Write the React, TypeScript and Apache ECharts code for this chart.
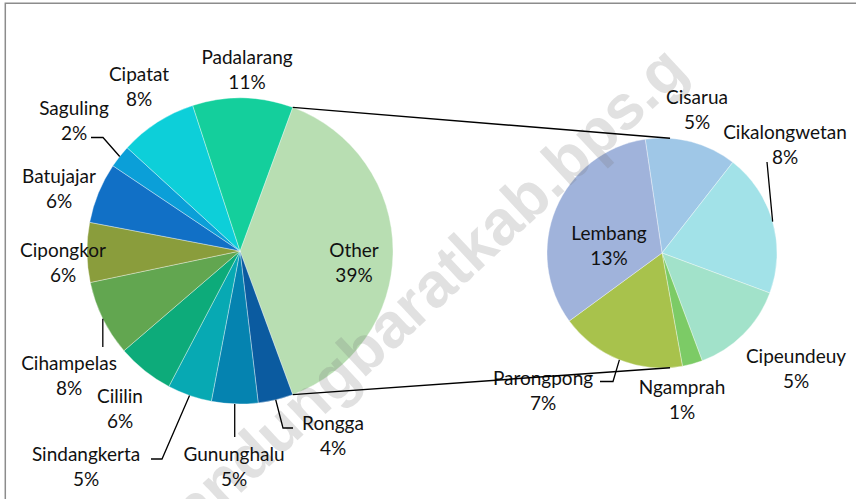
import React, { useEffect, useRef } from "react";
import * as echarts from "echarts";

// ---- data (shares of the whole, %) ----
const MAIN_NAMES = ["Rongga", "Gununghalu", "Sindangkerta", "Cililin", "Cihampelas", "Cipongkor", "Batujajar", "Saguling", "Cipatat", "Padalarang"];
const MAIN_VALUES = [3.7, 4.9, 4.7, 6.0, 8.0, 6.3, 6.4, 2.4, 8.2, 10.6];
const OTHER_NAME = "Other";
const SUB_NAMES = ["Cisarua", "Cikalongwetan", "Cipeundeuy", "Ngamprah", "Parongpong", "Lembang"];
const SUB_VALUES = [5.0, 7.8, 5.3, 1.1, 6.9, 12.7];
const WATERMARK = "bandungbaratkab.bps.g";

// ---- styles ----
const OTHER_COLOR = "#b8deb2";
const MAIN_COLORS = ["#0b5ba0", "#0583b0", "#07a9b3", "#0dab7a", "#62a650", "#8a9d3c", "#1170c6", "#0b9fd8", "#0dcfd9", "#14cf9c"];
const SUB_COLORS = ["#9fc7e7", "#a2e2e8", "#a2e2ca", "#7ccb66", "#a8c24c", "#a0b3db"];

// label centres (layout), in data order (main: Other first)
const MAIN_LABEL_POS: [number, number][] = [
  [354, 262], [333, 435], [234, 466], [86, 466], [120, 408], [69, 375], [63, 262], [59, 188], [74, 120], [139, 86], [247, 69],
];
const SUB_LABEL_POS: [number, number][] = [
  [697, 109], [785, 144], [796, 368], [682, 399], [543, 390], [609, 245],
];
// leader lines: [dx, dy] of the end point relative to the label centre (NaN dx = straight down/up from the slice),
// third entry = horizontal elbow length toward the slice
type Leader = [number, number, number] | null;
const MAIN_LEADERS: Leader[] = [
  null, [-40, -7, -10], [NaN, -29, 0], [65, -7, 11], null, [NaN, -28, 0], null, null, [17, 17.5, 12], null, null,
];
const SUB_LEADERS: Leader[] = [null, [-18, 18, 0], null, null, [57, -8.5, 13], null];

const MAIN_CENTER: [number, number] = [240, 251];
const MAIN_R = 153;
const SUB_CENTER: [number, number] = [662, 253];
const SUB_R = 115;
const SUB_START = 98.4;
const FONT = "Lato, 'Noto Sans', sans-serif";

export default function App() {
  const ref = useRef<HTMLDivElement>(null);
  useEffect(() => {
    if (!ref.current) return;
    const chart = echarts.init(ref.current, undefined, { renderer: "svg" });
    const otherValue = SUB_VALUES.reduce((a, b) => a + b, 0);
    const total = MAIN_VALUES.reduce((a, b) => a + b, 0) + otherValue;
    const otherAngle = (otherValue / total) * 360;
    const mainStart = otherAngle / 2;

    const fmt = (p: any) => `${p.name}\n${Math.round((p.value / total) * 100)}%`;

    const mainValuesAll = [otherValue, ...MAIN_VALUES];
    const mainNamesAll = [OTHER_NAME, ...MAIN_NAMES];
    const mainColorsAll = [OTHER_COLOR, ...MAIN_COLORS];

    const mkData = (names: string[], vals: number[], colors: string[], leaders: Leader[], visible: boolean) =>
      names.map((n, i) => ({
        name: n,
        value: vals[i],
        itemStyle: visible ? { color: colors[i] } : { color: "rgba(0,0,0,0)", borderWidth: 0 },
        labelLine: { show: !visible && !!leaders[i] },
      }));

    const deg = Math.PI / 180;
    // angle measured clockwise from 12 o'clock
    const pt = (c: [number, number], r: number, thetaFromTop: number) => [
      c[0] + r * Math.sin(thetaFromTop * deg),
      c[1] - r * Math.cos(thetaFromTop * deg),
    ];
    const midAngles = (vals: number[], startEchartsDeg: number) => {
      const sum = vals.reduce((a, b) => a + b, 0);
      let acc = 90 - startEchartsDeg;
      return vals.map((v) => {
        const a = (v / sum) * 360;
        const m = acc + a / 2;
        acc += a;
        return m;
      });
    };
    const mainMid = midAngles(mainValuesAll, mainStart);
    const subMid = midAngles(SUB_VALUES, SUB_START);

    const layoutFor = (
      posArr: [number, number][],
      leaders: Leader[],
      mids: number[],
      c: [number, number],
      r: number
    ) => (p: any) => {
      const i = p.dataIndex;
      const pos = posArr[i];
      const res: any = { x: pos[0], y: pos[1], align: "center", verticalAlign: "middle" };
      const L = leaders[i];
      if (L) {
        const anchor = pt(c, r, mids[i]);
        const endX = isNaN(L[0]) ? anchor[0] : pos[0] + L[0];
        const end = [endX, pos[1] + L[1]];
        if (L[2] !== 0) {
          res.labelLinePoints = [anchor, [end[0] + L[2], end[1]], end];
        } else {
          res.labelLinePoints = [anchor, [(anchor[0] + end[0]) / 2, (anchor[1] + end[1]) / 2], end];
        }
      }
      return res;
    };

    const a1 = pt(MAIN_CENTER, MAIN_R, 90 - otherAngle / 2);
    const a2 = pt(MAIN_CENTER, MAIN_R, 90 + otherAngle / 2);
    const b1 = pt(SUB_CENTER, SUB_R, 4);
    const b2 = pt(SUB_CENTER, SUB_R, 176);

    const labelCommon = {
      show: true,
      formatter: fmt,
      fontFamily: FONT,
      fontSize: 19,
      lineHeight: 24.5,
      color: "#111",
      align: "center",
    };
    const lineCommon = { length: 8, length2: 10, smooth: false, lineStyle: { color: "#000", width: 1.3 } };
    const itemCommon = { borderColor: "rgba(255,255,255,0.6)", borderWidth: 0.6 };

    const mainBase = {
      type: "pie",
      center: MAIN_CENTER,
      radius: MAIN_R,
      startAngle: mainStart,
      clockwise: true,
      avoidLabelOverlap: false,
      silent: true,
    };
    const subBase = {
      type: "pie",
      center: SUB_CENTER,
      radius: SUB_R,
      startAngle: SUB_START,
      clockwise: true,
      avoidLabelOverlap: false,
      silent: true,
    };

    chart.setOption({
      animation: false,
      backgroundColor: "#ffffff",
      series: [
        // slices
        {
          ...mainBase,
          z: 1,
          data: mkData(mainNamesAll, mainValuesAll, mainColorsAll, MAIN_LEADERS, true),
          itemStyle: itemCommon,
          label: { show: false },
          labelLine: { show: false },
        },
        {
          ...subBase,
          z: 1,
          data: mkData(SUB_NAMES, SUB_VALUES, SUB_COLORS, SUB_LEADERS, true),
          itemStyle: itemCommon,
          label: { show: false },
          labelLine: { show: false },
        },
        // data labels (drawn above the watermark)
        {
          ...mainBase,
          z: 5,
          data: mkData(mainNamesAll, mainValuesAll, mainColorsAll, MAIN_LEADERS, false),
          label: labelCommon,
          labelLine: lineCommon,
          labelLayout: layoutFor(MAIN_LABEL_POS, MAIN_LEADERS, mainMid, MAIN_CENTER, MAIN_R),
        },
        {
          ...subBase,
          z: 5,
          data: mkData(SUB_NAMES, SUB_VALUES, SUB_COLORS, SUB_LEADERS, false),
          label: labelCommon,
          labelLine: lineCommon,
          labelLayout: layoutFor(SUB_LABEL_POS, SUB_LEADERS, subMid, SUB_CENTER, SUB_R),
        },
      ],
      graphic: [
        {
          type: "rect",
          shape: { x: 5.3, y: 3.3, width: 900, height: 600 },
          style: { fill: "none", stroke: "#8c8c8c", lineWidth: 1.5 },
          z: 1,
        },
        {
          type: "line",
          shape: { x1: a1[0], y1: a1[1], x2: b1[0], y2: b1[1] },
          style: { stroke: "#000", lineWidth: 1.5 },
          z: 6,
        },
        {
          type: "line",
          shape: { x1: a2[0], y1: a2[1], x2: b2[0], y2: b2[1] },
          style: { stroke: "#000", lineWidth: 1.5 },
          z: 6,
        },
        {
          type: "text",
          x: 153.5,
          y: 544.5,
          rotation: 43 * deg,
          style: {
            text: WATERMARK,
            font: "bold 63px 'Liberation Sans', Arial, sans-serif",
            fill: "rgba(120,120,120,0.22)",
            textAlign: "left",
            textVerticalAlign: "middle",
          },
          z: 3,
          silent: true,
        },
      ],
    });
    return () => chart.dispose();
  }, []);
  return <div ref={ref} style={{ position: "absolute", left: 0, top: 0, width: 856, height: 499 }} />;
}
